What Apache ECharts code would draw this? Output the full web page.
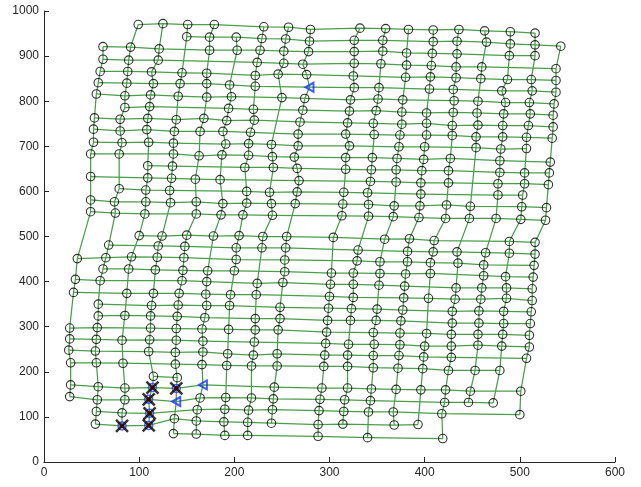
<!DOCTYPE html>
<html><head><meta charset="utf-8">
<script src="https://cdn.jsdelivr.net/npm/echarts/dist/echarts.min.js"></script>
<style>html,body{margin:0;padding:0;background:#fff}#c{width:641px;height:487px}</style>
</head><body><div id="c"></div>
<script>
// Tick values
const xTicks = [0, 100, 200, 300, 400, 500, 600];
const yTicks = [0, 100, 200, 300, 400, 500, 600, 700, 800, 900, 1000];

// Mesh rows, top to bottom. Each point: [column index, x, y]
const row01 = [[1,99,970],[2,125,972],[3,151,970],[4,179,970],[6,231,965],[7,257,964],[8,280,959],[9,332,962],[10,359,961],[11,383,959],[12,409,958],[13,436,959],[14,463,956],[15,490,954],[16,516,951]];
const row02 = [[3,150,943],[4,174,942],[5,202,942],[6,229,939],[7,254,938],[8,279,933],[9,326,935],[10,356,935],[12,409,932],[13,434,933],[14,465,931],[15,490,927],[16,516,925],[17,543,922]];
const row03 = [[0,62,921],[1,91,920],[2,121,916],[4,174,913],[5,203,913],[6,227,913],[7,252,911],[8,278,910],[9,326,910],[10,356,911],[11,381,907],[12,408,906],[13,434,905],[15,489,901],[16,516,901]];
const row04 = [[0,62,893],[1,89,891],[2,120,891],[6,224,886],[7,252,884],[8,272,882],[9,326,884],[10,354,883],[11,381,880],[12,407,879],[13,433,876],[14,460,876],[17,538,872]];
const row05 = [[0,59,866],[1,88,866],[2,113,865],[3,145,863],[4,171,862],[6,222,857],[7,246,860],[8,276,859],[9,325,856],[11,380,853],[12,406,854],[13,433,852],[14,459,850],[15,487,848],[16,512,848],[17,538,846]];
const row06 = [[0,57,841],[1,87,840],[2,115,839],[3,143,839],[4,171,839],[5,195,836],[6,222,833],[8,279,831],[9,326,830],[10,352,830],[12,405,827],[13,430,826],[15,481,823],[16,513,823],[17,538,820]];
const row07 = [[0,55,816],[1,85,812],[2,112,814],[3,141,811],[4,171,809],[5,197,810],[7,250,808],[8,274,806],[9,322,803],[10,351,805],[11,377,803],[13,431,801],[14,456,800],[15,485,797],[16,510,797],[17,536,794]];
const row08 = [[1,85,786],[2,111,788],[5,194,784],[6,220,782],[8,272,780],[9,321,778],[10,349,779],[11,376,776],[12,402,774],[13,430,775],[14,455,774],[15,483,772],[16,511,772],[17,535,769]];
const row09 = [[0,53,763],[1,80,760],[2,109,762],[3,139,759],[4,168,762],[5,192,757],[6,221,758],[8,269,754],[9,319,752],[10,346,751],[11,376,749],[12,402,751],[13,429,746],[14,456,747],[15,482,746],[16,509,746],[17,535,743]];
const row10 = [[0,52,738],[1,80,734],[2,108,737],[3,137,733],[4,164,733],[5,188,733],[6,217,731],[8,267,727],[9,317,727],[10,347,726],[11,374,725],[12,402,725],[13,429,724],[14,454,721],[15,482,721],[16,507,720],[17,534,718]];
const row11 = [[0,52,709],[1,82,708],[2,110,709],[3,136,707],[5,191,705],[6,215,706],[7,239,704],[8,267,701],[9,321,701],[11,373,699],[12,400,699],[14,454,697],[15,480,694],[16,507,695]];
const row12 = [[0,49,683],[1,79,683],[3,136,683],[4,163,679],[5,187,681],[6,215,680],[7,240,677],[8,263,676],[9,317,675],[10,345,675],[11,371,673],[12,399,671],[13,427,673],[15,479,668],[17,532,665]];
const row13 = [[2,109,657],[3,135,656],[6,211,653],[7,241,653],[8,266,651],[9,317,649],[10,344,648],[11,370,648],[12,397,646],[13,425,646],[15,479,642],[16,505,641],[17,531,641]];
const row14 = [[0,49,633],[2,109,630],[3,134,629],[4,159,627],[5,185,626],[8,268,624],[10,343,622],[11,370,621],[12,396,619],[13,425,619],[15,477,617],[16,505,617],[17,530,615]];
const row15 = [[1,79,606],[2,107,603],[3,132,602],[6,213,600],[7,237,598],[8,266,599],[9,315,598],[10,340,597],[12,396,594],[15,477,592],[16,503,592]];
const row16 = [[0,49,581],[1,74,577],[2,107,577],[3,133,575],[4,160,577],[5,188,573],[6,213,574],[7,239,573],[8,264,573],[9,314,572],[10,341,571],[11,368,568],[12,395,568],[13,423,570],[14,448,567],[16,502,566],[17,528,564]];
const row17 = [[0,49,555],[1,75,552],[2,106,550],[4,160,550],[5,186,548],[6,209,548],[7,240,547],[9,313,546],[10,341,545],[11,367,544],[12,394,542],[13,422,540],[14,447,540],[15,475,540],[16,501,538],[17,527,536]];
const row18 = [[2,100,502],[3,124,501],[4,150,503],[5,178,501],[6,205,502],[7,230,500],[8,255,500],[9,304,498],[11,358,494],[12,384,495],[13,410,491],[16,489,489],[17,516,487]];
const row19 = [[1,68,481],[3,120,479],[4,148,478],[6,202,475],[7,229,475],[8,254,475],[10,330,470],[12,382,467],[13,409,466],[14,434,466],[15,464,464],[16,489,463],[17,516,461]];
const row20 = [[0,35,451],[1,65,453],[2,92,455],[3,119,454],[4,147,453],[6,202,449],[8,253,448],[10,329,446],[11,353,444],[12,382,444],[13,406,442],[14,435,441],[15,462,437],[17,515,436]];
const row21 = [[1,62,428],[2,89,428],[3,117,426],[4,146,425],[5,172,424],[6,200,424],[8,253,422],[9,302,419],[10,325,419],[11,353,418],[12,380,417],[13,406,418],[15,462,413],[16,485,411],[17,514,410]];
const row22 = [[0,33,405],[1,59,402],[4,145,402],[5,171,400],[7,224,396],[8,251,398],[9,301,394],[10,325,394],[11,352,392],[12,379,390],[14,433,386],[15,460,386],[16,486,386],[17,513,384]];
const row23 = [[0,31,376],[2,87,374],[3,115,374],[4,142,374],[5,170,372],[6,196,371],[7,223,371],[9,300,367],[10,325,365],[12,378,364],[13,404,363],[14,432,361],[15,459,361],[16,486,363],[17,513,358]];
const row24 = [[1,57,350],[3,113,347],[4,141,348],[5,171,347],[6,195,347],[8,248,343],[9,299,341],[10,323,340],[11,350,339],[12,377,337],[14,429,334],[15,457,335],[16,483,334],[17,512,333]];
const row25 = [[1,57,324],[2,85,325],[3,112,324],[4,140,323],[5,169,320],[7,222,318],[8,248,318],[9,298,314],[10,322,314],[11,349,314],[12,375,313],[14,429,308],[15,457,308],[16,483,307],[17,511,307]];
const row26 = [[0,27,297],[1,56,298],[3,112,297],[4,139,296],[5,166,295],[6,194,294],[7,222,293],[8,246,293],[9,297,288],[11,346,287],[12,374,286],[13,402,285],[14,428,283],[15,456,283],[16,482,283],[17,510,281]];
const row27 = [[0,27,273],[1,55,272],[2,82,270],[3,111,271],[4,139,270],[5,167,268],[7,221,266],[9,296,263],[10,320,261],[11,347,261],[12,374,260],[13,400,257],[14,428,257],[15,456,259],[16,481,257],[17,510,255]];
const row28 = [[0,26,248],[1,54,246],[3,110,245],[4,138,243],[5,167,244],[6,193,240],[7,220,237],[8,245,240],[9,295,237],[10,319,237],[11,346,236],[12,373,236],[13,399,233],[14,428,232],[17,507,230]];
const row29 = [[0,28,220],[1,55,220],[2,83,219],[4,138,217],[5,166,216],[6,192,214],[7,218,213],[8,245,213],[9,294,212],[10,319,212],[11,346,209],[12,372,208],[13,398,207],[14,425,203],[15,453,203],[16,479,203]];
const row30 = [[3,115,190],[4,140,187]];
const row31 = [[0,28,171],[1,57,167],[2,85,164],[3,114,165],[4,139,163],[5,167,171],[8,242,166],[9,292,164],[10,319,164],[11,344,162],[12,370,161],[13,396,160],[14,422,160],[15,448,157],[17,501,157]];
const row32 = [[0,27,145],[1,56,138],[2,85,138],[3,110,139],[4,139,134],[5,164,142],[6,191,143],[7,218,142],[8,241,140],[9,290,139],[10,316,138],[11,343,136],[14,421,132],[15,446,132],[16,472,131]];
const row33 = [[1,55,112],[2,82,109],[3,111,108],[5,161,116],[6,190,117],[7,215,115],[8,240,116],[9,289,114],[10,315,112],[11,341,111],[12,367,111],[14,418,107],[17,500,105]];
const row34 = [[1,54,84],[2,82,80],[3,110,81],[4,137,96],[5,160,91],[6,189,89],[7,214,88],[8,239,86],[9,288,83],[10,314,84],[12,368,82],[13,393,83]];
const row35 = [[4,136,63],[5,160,62],[6,190,59],[7,214,59],[9,288,57],[11,340,54],[14,419,52]];

// Special markers, given as [row number, column index]
const crossMarks = [[31,3],[31,4],[32,3],[33,3],[34,2],[34,3]];
const blueMarks = [[6,8],[31,5],[32,4]];

const rows = [row01,row02,row03,row04,row05,row06,row07,row08,row09,row10,row11,row12,row13,row14,row15,row16,row17,row18,row19,row20,row21,row22,row23,row24,row25,row26,row27,row28,row29,row30,row31,row32,row33,row34,row35];
const laneCount = 18;

function pointAt(rowNo, lane) {
  const p = rows[rowNo - 1].find(q => q[0] === lane);
  return p ? [p[1], p[2]] : null;
}
const key = (r, l) => r + '_' + l;
const special = new Set([...crossMarks, ...blueMarks].map(m => key(m[0], m[1])));

const paths = [];
rows.forEach(r => { if (r.length > 1) paths.push({ coords: r.map(p => [p[1], p[2]]) }); });
for (let l = 0; l < laneCount; l++) {
  const pts = [];
  rows.forEach(r => r.forEach(p => { if (p[0] === l) pts.push([p[1], p[2]]); }));
  if (pts.length > 1) paths.push({ coords: pts });
}
const circles = [];
rows.forEach((r, i) => r.forEach(p => { if (!special.has(key(i + 1, p[0]))) circles.push([p[1], p[2]]); }));
const crossPts = crossMarks.map(m => pointAt(m[0], m[1]));
const bluePts = blueMarks.map(m => pointAt(m[0], m[1]));

const labelStyle = { color: '#262626', fontSize: 12, fontFamily: 'Liberation Sans, Arial, sans-serif', margin: 5,
  formatter: v => String(v) };
const axisCommon = {
  type: 'value',
  axisLine: { show: true, lineStyle: { color: '#262626', width: 1 } },
  axisTick: { show: true, inside: true, length: 5, lineStyle: { color: '#262626', width: 1 } },
  axisLabel: labelStyle,
  splitLine: { show: false }
};

const chart = echarts.init(document.getElementById('c'), null, { renderer: 'canvas' });
chart.setOption({
  animation: false,
  backgroundColor: '#ffffff',
  grid: { left: 44, right: 26, top: 11, bottom: 25, containLabel: false, outerBoundsMode: 'none' },
  xAxis: Object.assign({}, axisCommon, { min: xTicks[0], max: xTicks[xTicks.length - 1], interval: 100 }),
  yAxis: Object.assign({}, axisCommon, { min: yTicks[0], max: yTicks[yTicks.length - 1], interval: 100 }),
  series: [
    { type: 'lines', coordinateSystem: 'cartesian2d', polyline: true, silent: true, z: 1,
      lineStyle: { color: '#4a9e4a', width: 1.25, opacity: 1 }, data: paths },
    { type: 'scatter', data: circles, symbol: 'circle', symbolSize: 8.5, silent: true, z: 3,
      itemStyle: { color: 'rgba(0,0,0,0)', borderColor: '#000', borderWidth: 1.1 } },
    { type: 'scatter', data: crossPts, symbol: 'circle', symbolSize: 8, silent: true, z: 4,
      itemStyle: { color: 'rgba(0,0,0,0)', borderColor: '#2a3cff', borderWidth: 1.5 } },
    { type: 'scatter', data: crossPts, symbol: 'circle', symbolSize: 5, silent: true, z: 5,
      itemStyle: { color: '#e02424' } },
    { type: 'scatter', data: crossPts, symbol: 'path://M0,0L10,10M10,0L0,10', symbolSize: 12, silent: true, z: 6,
      itemStyle: { color: 'rgba(0,0,0,0)', borderColor: '#000', borderWidth: 2.5 } },
    { type: 'scatter', data: bluePts, symbol: 'path://M0,5L10,0L10,10Z', symbolSize: [8, 9], silent: true, z: 6,
      itemStyle: { color: 'rgba(0,0,0,0)', borderColor: '#1532ff', borderWidth: 2 } }
  ]
});
</script>
</body></html>
